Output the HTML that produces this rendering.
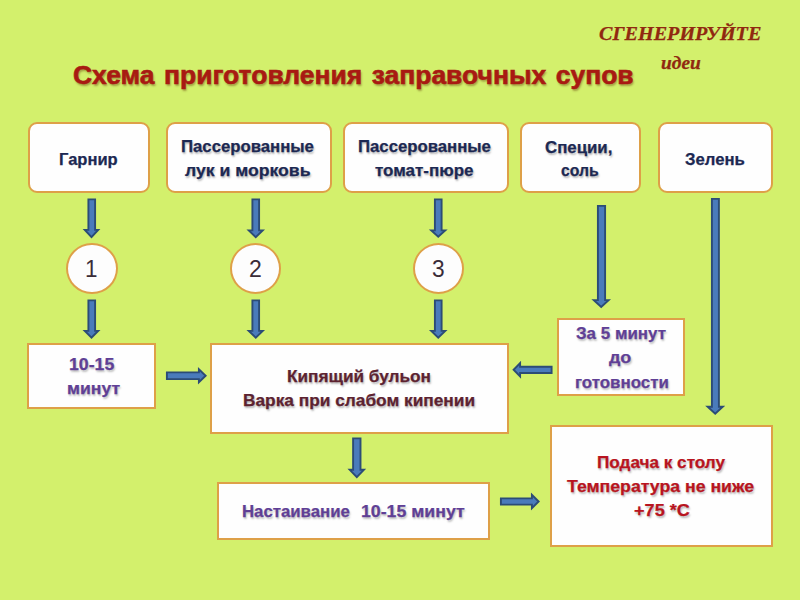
<!DOCTYPE html>
<html><head><meta charset="utf-8">
<style>
html,body{margin:0;padding:0;}
body{width:800px;height:600px;overflow:hidden;background:#d3f06c;position:relative;font-family:"Liberation Sans",sans-serif;}
.box{position:absolute;box-sizing:border-box;background:#fefefe;border:2.7px solid #dea048;}
.r{border-radius:9px;}
.t{position:absolute;white-space:pre;font-weight:bold;line-height:1;transform-origin:0 0;-webkit-text-stroke:0.25px currentColor;}
.gen{font-family:"Liberation Serif",serif;font-style:italic;color:#902810;}
.title{color:#a81a12;word-spacing:2px;-webkit-text-stroke:0.6px currentColor;text-shadow:1px 1.5px 2px rgba(90,40,0,0.4);}
.navy{color:#1c2852;}
.sh{text-shadow:1px 1.5px 2px rgba(0,0,0,0.28);}
.pur{color:#5f3f95;text-shadow:1px 1.5px 2px rgba(0,0,0,0.25);}
.mar{color:#5c2230;}
.red{color:#b81420;}
.num{font-weight:normal;color:#3a2c38;-webkit-text-stroke:0;}
.circ{position:absolute;box-sizing:border-box;border-radius:50%;background:#fdfdfd;border:2.7px solid #dea048;}
svg{position:absolute;left:0;top:0;}
</style></head>
<body>
<div class="box r" style="left:27.5px;top:122px;width:122.5px;height:71.2px;"></div>
<div class="box r" style="left:166px;top:122px;width:166.2px;height:71.2px;"></div>
<div class="box r" style="left:342.75px;top:122px;width:166.2px;height:71.2px;"></div>
<div class="box r" style="left:519.5px;top:122px;width:121.8px;height:71.2px;"></div>
<div class="box r" style="left:658.25px;top:122px;width:114.8px;height:71.2px;"></div>
<div class="box" style="left:27.25px;top:342.5px;width:128.8px;height:66.5px;"></div>
<div class="box" style="left:209.75px;top:342.75px;width:299.0px;height:90.8px;"></div>
<div class="box" style="left:556.5px;top:317.75px;width:128.5px;height:77.8px;"></div>
<div class="box" style="left:216.75px;top:481.75px;width:273.0px;height:58.5px;"></div>
<div class="box" style="left:550px;top:424.75px;width:223.2px;height:122.2px;"></div>
<div class="circ" style="left:65.5px;top:242.5px;width:52.0px;height:51.8px;"></div>
<div class="circ" style="left:229.5px;top:242.5px;width:51.8px;height:51.5px;"></div>
<div class="circ" style="left:412.5px;top:242.5px;width:51.8px;height:51.5px;"></div>
<div class="t gen" id="gen" style="left:599.47px;top:25.15px;font-size:18.8px;transform:scaleX(1.0718);">СГЕНЕРИРУЙТЕ</div>
<div class="t gen" id="idei" style="left:660.97px;top:53.65px;font-size:18.8px;transform:scaleX(1.0343);">идеи</div>
<div class="t title" id="title" style="left:72.75px;top:63.09px;font-size:25.6px;transform:scaleX(1.0346);">Схема приготовления заправочных супов</div>
<div class="t navy" id="t1" style="left:58.79px;top:150.80px;font-size:17.0px;transform:scaleX(0.9724);">Гарнир</div>
<div class="t navy sh" id="t2a" style="left:181.22px;top:138.30px;font-size:17.0px;transform:scaleX(0.9839);">Пассерованные</div>
<div class="t navy sh" id="t2b" style="left:185.00px;top:162.30px;font-size:17.0px;transform:scaleX(1.0360);">лук и морковь</div>
<div class="t navy sh" id="t3a" style="left:357.79px;top:138.30px;font-size:17.0px;transform:scaleX(0.9840);">Пассерованные</div>
<div class="t navy sh" id="t3b" style="left:374.94px;top:162.30px;font-size:17.0px;transform:scaleX(0.9974);">томат-пюре</div>
<div class="t navy sh" id="t4a" style="left:545.47px;top:138.80px;font-size:17.0px;transform:scaleX(0.9893);">Специи,</div>
<div class="t navy sh" id="t4b" style="left:560.90px;top:161.80px;font-size:17.0px;transform:scaleX(0.9252);">соль</div>
<div class="t navy" id="t5" style="left:684.76px;top:151.30px;font-size:17.0px;transform:scaleX(0.9833);">Зелень</div>
<div class="t num" id="n1" style="left:84.61px;top:257.23px;font-size:24.2px;transform:scaleX(0.9275);">1</div>
<div class="t num" id="n2" style="left:249.26px;top:257.23px;font-size:24.2px;transform:scaleX(0.9519);">2</div>
<div class="t num" id="n3" style="left:431.76px;top:257.23px;font-size:24.2px;transform:scaleX(0.9380);">3</div>
<div class="t pur" id="m1a" style="left:68.50px;top:355.50px;font-size:17.0px;transform:scaleX(1.0397);">10-15</div>
<div class="t pur" id="m1b" style="left:67.10px;top:380.30px;font-size:17.0px;transform:scaleX(1.0332);">минут</div>
<div class="t mar sh" id="b1" style="left:287.00px;top:368.00px;font-size:17.0px;transform:scaleX(1.0109);">Кипящий бульон</div>
<div class="t mar sh" id="b2" style="left:243.00px;top:392.30px;font-size:17.0px;transform:scaleX(1.0170);">Варка при слабом кипении</div>
<div class="t pur" id="z1" style="left:575.75px;top:325.30px;font-size:17.0px;transform:scaleX(0.9972);">За 5 минут</div>
<div class="t pur" id="z2" style="left:609.25px;top:348.85px;font-size:17.0px;transform:scaleX(1.0540);">до</div>
<div class="t pur" id="z3" style="left:574.97px;top:373.75px;font-size:17.0px;transform:scaleX(0.9942);">готовности</div>
<div class="t pur" id="s1a" style="left:241.60px;top:503.00px;font-size:17.0px;transform:scaleX(0.9863);">Настаивание</div>
<div class="t pur" id="s1b" style="left:361.44px;top:503.00px;font-size:17.0px;transform:scaleX(1.0420);">10-15 минут</div>
<div class="t red sh" id="p1" style="left:596.97px;top:453.60px;font-size:17.0px;transform:scaleX(1.0079);">Подача к столу</div>
<div class="t red sh" id="p2" style="left:567.30px;top:478.10px;font-size:17.0px;transform:scaleX(1.0400);">Температура не ниже</div>
<div class="t red sh" id="p3" style="left:634.36px;top:502.15px;font-size:17.0px;transform:scaleX(1.0647);">+75 *С</div>
<svg width="800" height="600" viewBox="0 0 800 600"><g fill="#4a7bbb" stroke="#2c4c76" stroke-width="1.9" stroke-linejoin="miter">
<polygon points="88.40,199.40 95.10,199.40 95.10,229.90 98.20,229.90 91.50,237.15 84.80,229.90 88.40,229.90"/>
<polygon points="252.40,199.40 259.10,199.40 259.10,230.40 262.70,230.40 255.75,237.15 248.80,230.40 252.40,230.40"/>
<polygon points="434.90,199.40 441.60,199.40 441.60,230.40 445.20,230.40 438.25,236.65 431.30,230.40 434.90,230.40"/>
<polygon points="88.40,300.40 95.10,300.40 95.10,330.90 98.20,330.90 91.50,337.65 84.80,330.90 88.40,330.90"/>
<polygon points="252.40,300.40 259.10,300.40 259.10,330.90 262.70,330.90 255.75,337.65 248.80,330.90 252.40,330.90"/>
<polygon points="434.90,300.40 441.60,300.40 441.60,330.90 445.20,330.90 438.25,337.65 431.30,330.90 434.90,330.90"/>
<polygon points="597.90,205.90 605.10,205.90 605.10,300.10 608.60,300.10 601.20,306.95 593.80,300.10 597.90,300.10"/>
<polygon points="711.90,198.90 718.90,198.90 718.90,406.70 722.80,406.70 715.20,413.65 707.60,406.70 711.90,406.70"/>
<polygon points="353.10,438.40 360.50,438.40 360.50,469.80 363.95,469.80 356.82,477.25 349.70,469.80 353.10,469.80"/>
<polygon points="166.90,372.40 198.90,372.40 198.90,369.30 205.65,375.75 198.90,382.20 198.90,379.10 166.90,379.10"/>
<polygon points="500.90,498.40 531.90,498.40 531.90,494.80 538.65,501.50 531.90,508.20 531.90,504.60 500.90,504.60"/>
<polygon points="551.60,366.70 520.10,366.70 520.10,363.00 513.60,369.73 520.10,376.45 520.10,373.00 551.60,373.00"/>
</g></svg>
</body></html>
